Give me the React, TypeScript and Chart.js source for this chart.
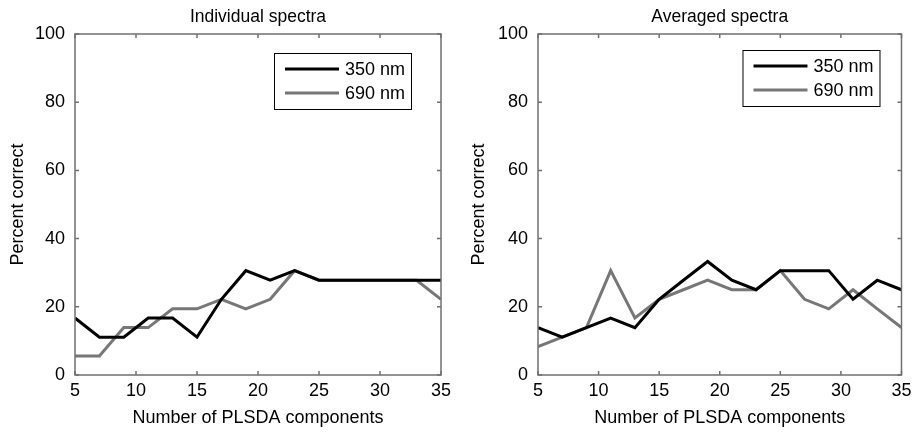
import React, { useEffect, useRef } from "react";
import { Chart, registerables } from "chart.js";

Chart.register(...registerables);

const components = [5, 7, 9, 11, 13, 15, 17, 19, 21, 23, 25, 27, 29, 31, 33, 35];
const individual350 = [16.7, 11.1, 11.1, 16.7, 16.7, 11.1, 22.2, 30.6, 27.8, 30.6, 27.8, 27.8, 27.8, 27.8, 27.8, 27.8];
const individual690 = [5.6, 5.6, 13.9, 13.9, 19.4, 19.4, 22.2, 19.4, 22.2, 30.6, 27.8, 27.8, 27.8, 27.8, 27.8, 22.2];
const averaged350 = [13.9, 11.1, 13.9, 16.7, 13.9, 22.2, 27.8, 33.3, 27.8, 25.0, 30.6, 30.6, 30.6, 22.2, 27.8, 25.0];
const averaged690 = [8.3, 11.1, 13.9, 30.6, 16.7, 22.2, 25.0, 27.8, 25.0, 25.0, 30.6, 22.2, 19.4, 25.0, 19.4, 13.9];
const seriesLabels = ["350 nm", "690 nm"];
const panelTitles = ["Individual spectra", "Averaged spectra"];
const xAxisTitle = "Number of PLSDA components";
const yAxisTitle = "Percent correct";

const FONT = "'Liberation Sans', Arial, sans-serif";
const FS = 18;
const AXIS_COLOR = "#707070";
const COLORS = ["#000000", "#777777"];

const framePlugin = {
  id: "frame",
  afterDraw(chart: any, _args: any, opts: any) {
    const { ctx, chartArea, scales } = chart;
    const { left, right, top, bottom } = chartArea;
    const x = scales.x;
    const y = scales.y;
    ctx.save();
    ctx.strokeStyle = AXIS_COLOR;
    ctx.lineWidth = 1.5;
    ctx.strokeRect(left, top, right - left, bottom - top);
    const tl = 4;
    ctx.beginPath();
    x.ticks.forEach((t: any) => {
      const px = x.getPixelForValue(t.value);
      ctx.moveTo(px, bottom);
      ctx.lineTo(px, bottom - tl);
      ctx.moveTo(px, top);
      ctx.lineTo(px, top + tl);
    });
    y.ticks.forEach((t: any) => {
      const py = y.getPixelForValue(t.value);
      ctx.moveTo(left, py);
      ctx.lineTo(left + tl, py);
      ctx.moveTo(right, py);
      ctx.lineTo(right - tl, py);
    });
    ctx.stroke();

    // legend box
    const bw = 137;
    const bh = 56;
    const bx = right - opts.rightOffset - bw;
    const by = top + opts.topOffset;
    ctx.fillStyle = "#ffffff";
    ctx.fillRect(bx, by, bw, bh);
    ctx.strokeStyle = "#000000";
    ctx.lineWidth = 1;
    ctx.strokeRect(bx + 0.5, by + 0.5, bw, bh);
    ctx.font = `${FS}px ${FONT}`;
    ctx.textBaseline = "middle";
    ctx.textAlign = "left";
    chart.data.datasets.forEach((ds: any, i: number) => {
      const ry = by + 16 + i * 24;
      ctx.strokeStyle = ds.borderColor;
      ctx.lineWidth = 3;
      ctx.beginPath();
      ctx.moveTo(bx + 11, ry);
      ctx.lineTo(bx + 65, ry);
      ctx.stroke();
      ctx.fillStyle = "#000000";
      ctx.fillText(ds.label, bx + 71, ry + 1);
    });
    ctx.restore();
  },
};

function Panel(props: {
  title: string;
  s350: number[];
  s690: number[];
  width: number;
  yAxisWidth: number;
  rightPad: number;
  tickPad: number;
  legendRight: number;
  legendTop: number;
  yTitlePad: number;
}) {
  const ref = useRef<HTMLCanvasElement | null>(null);
  useEffect(() => {
    if (!ref.current) return;
    const chart = new Chart(ref.current, {
      type: "line",
      data: {
        labels: components,
        datasets: [
          {
            label: seriesLabels[0],
            data: components.map((c, i) => ({ x: c, y: props.s350[i] })),
            borderColor: COLORS[0],
            borderWidth: 3,
            pointRadius: 0,
            tension: 0,
          },
          {
            label: seriesLabels[1],
            data: components.map((c, i) => ({ x: c, y: props.s690[i] })),
            borderColor: COLORS[1],
            borderWidth: 3,
            pointRadius: 0,
            tension: 0,
          },
        ],
      },
      options: {
        responsive: false,
        animation: false,
        layout: { padding: { left: 0, right: props.rightPad, top: 0, bottom: 0 } },
        plugins: {
          legend: { display: false },
          tooltip: { enabled: false },
          title: {
            display: true,
            text: props.title,
            fullSize: false,
            color: "#000",
            font: { family: FONT, size: 17.5, weight: "normal" as any },
            padding: { top: 6.5, bottom: 6.5 },
          },
          frame: { rightOffset: props.legendRight, topOffset: props.legendTop },
        } as any,
        scales: {
          x: {
            type: "linear",
            min: 5,
            max: 35,
            border: { display: false },
            grid: { display: false, drawTicks: false, tickLength: 0 },
            ticks: {
              stepSize: 5,
              color: "#000",
              padding: 5.5,
              maxRotation: 0,
              font: { family: FONT, size: FS },
            },
            title: {
              display: true,
              text: xAxisTitle,
              color: "#000",
              font: { family: FONT, size: FS },
              padding: { top: 0, bottom: 3 },
            },
            afterFit: (s: any) => {
              s.height = 57;
            },
          },
          y: {
            type: "linear",
            min: 0,
            max: 100,
            border: { display: false },
            grid: { display: false, drawTicks: false, tickLength: 0 },
            ticks: {
              stepSize: 20,
              color: "#000",
              padding: props.tickPad,
              font: { family: FONT, size: FS },
            },
            title: {
              display: true,
              text: yAxisTitle,
              color: "#000",
              font: { family: FONT, size: FS },
              padding: { top: props.yTitlePad, bottom: 0 },
            },
            afterFit: (s: any) => {
              s.width = props.yAxisWidth;
            },
          },
        },
      },
      plugins: [framePlugin],
    });
    return () => chart.destroy();
  }, []);
  return (
    <canvas
      ref={ref}
      width={props.width}
      height={432}
      style={{ width: props.width, height: 432, display: "block" }}
    />
  );
}

export default function App() {
  return (
    <div style={{ position: "fixed", left: 0, top: 0, width: 917, height: 432, background: "#fff", display: "flex" }}>
      <Panel
        title={panelTitles[0]}
        s350={individual350}
        s690={individual690}
        width={458}
        yAxisWidth={75}
        rightPad={17}
        tickPad={10}
        legendRight={30}
        legendTop={19}
        yTitlePad={7}
      />
      <Panel
        title={panelTitles[1]}
        s350={averaged350}
        s690={averaged690}
        width={459}
        yAxisWidth={80}
        rightPad={12}
        tickPad={10}
        legendRight={22}
        legendTop={16}
        yTitlePad={10}
      />
    </div>
  );
}
